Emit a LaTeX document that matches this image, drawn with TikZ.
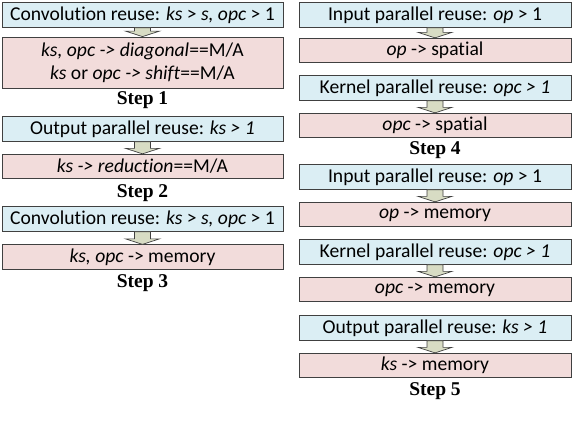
\documentclass[tikz,border=0pt]{standalone}
\usepackage{fontspec}
\setmainfont{Carlito}[Ligatures=NoCommon]
\newfontfamily\stepfont{Liberation Serif}
\tikzset{
  x=1pt, y=-1pt,
  box/.style={draw=black!75, line width=0.8pt, minimum height=24.5pt,
    inner sep=0pt, align=center, font=\fontsize{19.6}{23}\selectfont},
  lcol/.style={minimum width=281pt},
  rcol/.style={minimum width=272pt},
  cond/.style={box, fill={rgb,255:red,219;green,238;blue,244}},
  act/.style={box, fill={rgb,255:red,242;green,220;blue,219}},
  steplabel/.style={font=\stepfont\bfseries\fontsize{19.5}{22}\selectfont, inner sep=0pt},
  flowarr/.style={draw=black!75, line width=0.7pt, fill={rgb,255:red,216;green,220;blue,196}}
}
\newcommand\flowarrow[2]{%
  \draw[flowarr] ([xshift=-8pt]#1.south) -- ([xshift=-8pt,yshift=5.5pt]#2.north) --
    ([xshift=-17pt,yshift=5.5pt]#2.north) -- (#2.north) -- ([xshift=17pt,yshift=5.5pt]#2.north) --
    ([xshift=8pt,yshift=5.5pt]#2.north) -- ([xshift=8pt]#1.south) -- cycle;}
\begin{document}
\begin{tikzpicture}
\useasboundingbox (0,0) rectangle (588,432);
% left column
\node[cond,lcol] (b1) at (142.5,15) {Convolution reuse: \textit{ks} > \textit{s, opc} > 1};
\node[act,lcol, minimum height=51pt] (p1) at (142.5,62.5) {\textit{ks, opc -> diagonal}==M/A\\[0pt] \textit{ks} or \textit{opc -> shift}==M/A};
\node[steplabel] (s1) at (142.5,100) {Step 1};
\node[cond,lcol] (b2) at (142.5,129) {Output parallel reuse: \textit{ks > 1}};
\node[act,lcol] (p2) at (142.5,166.5) {\textit{ks -> reduction}==M/A};
\node[steplabel] (s2) at (142.5,193) {Step 2};
\node[cond,lcol] (b3) at (142.5,219) {Convolution reuse: \textit{ks} > \textit{s, opc} > 1};
\node[act,lcol] (p3) at (142.5,257) {\textit{ks, opc} -> memory};
\node[steplabel] (s3) at (142.5,283) {Step 3};
% right column
\node[cond,rcol] (r1) at (435,15) {Input parallel reuse: \textit{op} > 1};
\node[act,rcol] (r2) at (435,50.5) {\textit{op} -> spatial};
\node[cond,rcol] (r3) at (435,88) {Kernel parallel reuse: \textit{opc > 1}};
\node[act,rcol] (r4) at (435,125.5) {\textit{opc} -> spatial};
\node[steplabel] (s4) at (435,150) {Step 4};
\node[cond,rcol] (r5) at (435,177) {Input parallel reuse: \textit{op} > 1};
\node[act,rcol] (r6) at (435,214.5) {\textit{op} -> memory};
\node[cond,rcol] (r7) at (435,252) {Kernel parallel reuse: \textit{opc > 1}};
\node[act,rcol] (r8) at (435,289.5) {\textit{opc} -> memory};
\node[cond,rcol] (r9) at (435,328) {Output parallel reuse: \textit{ks > 1}};
\node[act,rcol] (r10) at (435,365.5) {\textit{ks} -> memory};
\node[steplabel] (s5) at (435,391) {Step 5};
% arrows
\flowarrow{b1}{p1}
\flowarrow{b2}{p2}
\flowarrow{b3}{p3}
\flowarrow{r1}{r2}
\flowarrow{r3}{r4}
\flowarrow{r5}{r6}
\flowarrow{r7}{r8}
\flowarrow{r9}{r10}
\end{tikzpicture}
\end{document}
